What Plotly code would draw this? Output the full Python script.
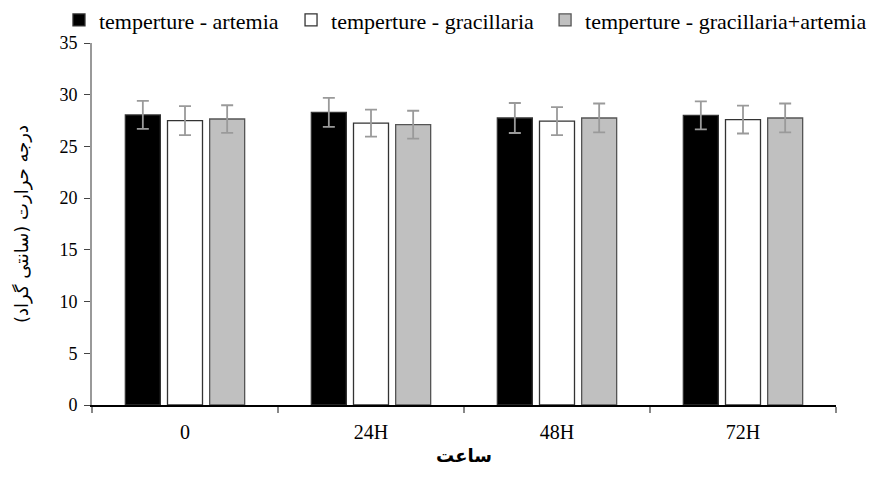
import plotly.graph_objects as go

categories = ["0", "24H", "48H", "72H"]
series_names = ["temperture - artemia", "temperture - gracillaria", "temperture - gracillaria+artemia"]
artemia = [28.05, 28.3, 27.75, 28.0]
artemia_err = [1.35, 1.4, 1.45, 1.35]
gracillaria = [27.5, 27.25, 27.45, 27.6]
gracillaria_err = [1.4, 1.3, 1.35, 1.35]
mixed = [27.65, 27.1, 27.75, 27.75]
mixed_err = [1.33, 1.35, 1.4, 1.4]

fills = ["#000000", "#ffffff", "#c0c0c0"]
outlines = ["#333333", "#333333", "#555555"]
legend_ids = ["legend", "legend2", "legend3"]
legend_x = [0.058, 0.322, 0.611]

serif = "Liberation Serif, Times New Roman, serif"

fig = go.Figure()
for name, vals, errs, fc, lc, lg in zip(series_names, [artemia, gracillaria, mixed],
                                         [artemia_err, gracillaria_err, mixed_err], fills, outlines, legend_ids):
    fig.add_trace(go.Bar(
        x=categories, y=vals, name=name, legend=lg,
        marker=dict(color=fc, line=dict(color=lc, width=1.3)),
        error_y=dict(type="data", array=errs, visible=True, color="#9a9a9a", thickness=1.8, width=6),
    ))

legend_common = dict(orientation="h", xref="container", xanchor="left",
                     yref="container", y=0.975, yanchor="middle",
                     font=dict(family=serif, size=22), itemwidth=30,
                     bgcolor="rgba(0,0,0,0)")

fig.update_layout(
    width=879, height=486,
    paper_bgcolor="white", plot_bgcolor="white",
    barmode="group", bargap=0.32, bargroupgap=0.17,
    margin=dict(l=84, r=51, t=35, b=89, autoexpand=False),
    font=dict(family=serif, size=15, color="black"),
    showlegend=True,
    legend=dict(x=legend_x[0], **legend_common),
    legend2=dict(x=legend_x[1], **legend_common),
    legend3=dict(x=legend_x[2], **legend_common),
    xaxis=dict(
        automargin=False,
        showline=True, linecolor="#000000", linewidth=1.5,
        ticks="outside", tickson="boundaries", ticklen=6, tickcolor="#888888", tickwidth=1.5,
        tickfont=dict(family=serif, size=20), ticklabelstandoff=8,
        title=dict(text="<b>ساعت</b>", font=dict(family="DejaVu Sans, Noto Sans", size=18), standoff=8),
        showgrid=False,
    ),
    yaxis=dict(
        automargin=False,
        range=[0, 35], dtick=5, showline=True, linecolor="#999999", linewidth=2,
        ticks="outside", ticklen=6, tickcolor="#444444", tickwidth=1,
        tickfont=dict(family=serif, size=18), ticklabelstandoff=3,
        title=dict(text="درجه حرارت (سانتی گراد)", font=dict(family="DejaVu Sans, Noto Sans", size=18), standoff=26),
        showgrid=False, zeroline=False,
    ),
)

fig.write_html("out.html")
